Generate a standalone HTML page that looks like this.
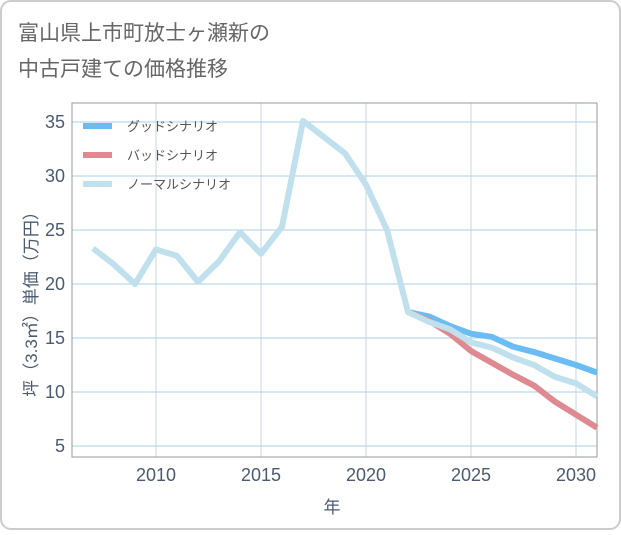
<!DOCTYPE html>
<html><head><meta charset="utf-8"><style>
body{margin:0;background:#fff;font-family:"Liberation Sans","Noto Sans CJK JP",sans-serif}
#wrap{position:relative;width:621px;height:530px;}
</style></head><body>
<div id="wrap">
<svg id="c" width="621" height="530" xmlns="http://www.w3.org/2000/svg">
<rect x="1" y="1" width="619" height="528" rx="10" fill="#fff" stroke="#ccc" stroke-width="2"/>
<text x="18" y="40" font-size="21" fill="#666">富山県上市町放士ヶ瀬新の</text>
<text x="18" y="76" font-size="21" fill="#666">中古戸建ての価格推移</text>
<g id="grid"></g>
<rect x="72" y="103" width="525" height="354" fill="none" stroke="#999" stroke-width="1"/>
<g id="series"></g>
<g id="legend"></g>
<text x="332" y="513" font-size="17" fill="#4a5a70" text-anchor="middle">年</text>
<text transform="translate(37,300) rotate(-90)" font-size="17" fill="#4a5a70" text-anchor="middle">坪（3.3㎡）単価（万円）</text>
</svg>
</div>
<script>
const years=[2007,2008,2009,2010,2011,2012,2013,2014,2015,2016,2017,2018,2019,2020,2021,2022,2023,2024,2025,2026,2027,2028,2029,2030,2031];
const normalVals=[23.3,21.8,20.0,23.2,22.6,20.2,22.1,24.8,22.8,25.3,35.1,33.6,32.1,29.2,25.0,17.4,16.5,15.8,14.6,14.1,13.2,12.5,11.4,10.8,9.6];
const goodYears=[2022,2023,2024,2025,2026,2027,2028,2029,2030,2031];
const goodVals=[17.4,17.0,16.1,15.4,15.1,14.2,13.7,13.1,12.5,11.8];
const badVals=[17.4,16.6,15.4,13.8,12.7,11.6,10.6,9.1,7.9,6.7];
const yTicks=[5,10,15,20,25,30,35];
const xTicks=[2010,2015,2020,2025,2030];
const NS="http://www.w3.org/2000/svg";
const X=v=>156+(v-2010)*21;
const Y=v=>122+(35-v)*10.8;
function mk(tag,attrs,parent){const e=document.createElementNS(NS,tag);for(const k in attrs)e.setAttribute(k,attrs[k]);parent.appendChild(e);return e;}
const grid=document.getElementById('grid');
yTicks.forEach(t=>{
 const l=mk('line',{x1:72,x2:597,y1:Y(t),y2:Y(t),stroke:'#a8cfe6','stroke-width':1},grid);
 
 
 const tx=mk('text',{x:65,y:Y(t)+6,'font-size':18,fill:'#4a5a70','text-anchor':'end'},grid);
 tx.textContent=t;
 
 
});
xTicks.forEach(t=>{
 const l=mk('line',{x1:X(t),x2:X(t),y1:103,y2:457,stroke:'#c5d6e6','stroke-width':1},grid);
 
 
 const tx=mk('text',{x:X(t),y:481,'font-size':18,fill:'#4a5a70','text-anchor':'middle'},grid);
 tx.textContent=t;
 
 
});
const ser=document.getElementById('series');
function line(xs,vs,color,name){
 const p=mk('polyline',{points:xs.map((x,i)=>X(x)+','+Y(vs[i])).join(' '),fill:'none',stroke:color,'stroke-width':6,'stroke-linejoin':'round'},ser);
 
 
}
line(goodYears,goodVals,'#6bbcf2','good-scenario-line');
line(goodYears,badVals,'#de8a90','bad-scenario-line');
line(years,normalVals,'#bfe0ec','normal-scenario-line');
const leg=document.getElementById('legend');
[['グッドシナリオ','#6bbcf2','legend-good'],['バッドシナリオ','#de8a90','legend-bad'],['ノーマルシナリオ','#bfe0ec','legend-normal']].forEach((d,i)=>{
 const y=126+i*29;
 const g=mk('g',{},leg);
 
 
 mk('line',{x1:83,x2:112,y1:y,y2:y,stroke:d[1],'stroke-width':6},g);
 const t=mk('text',{x:127,y:y+5,'font-size':13,fill:'#555'},g);
 t.textContent=d[0];
});
</script>
</body></html>
